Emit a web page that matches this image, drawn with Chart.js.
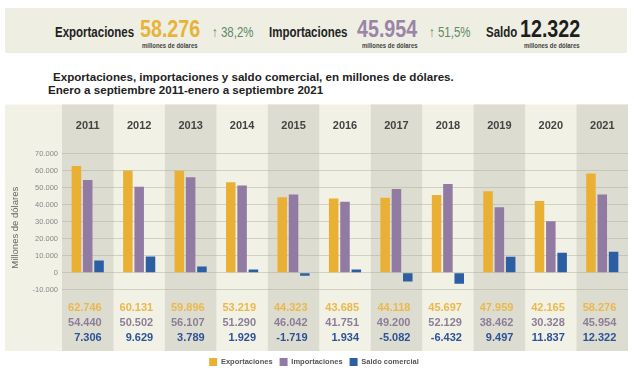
<!DOCTYPE html>
<html>
<head>
<meta charset="utf-8">
<script src="https://cdn.jsdelivr.net/npm/chart.js@4"></script>
<style>
  body { margin: 0; background: #fff; width: 634px; height: 380px; overflow: hidden; position: relative; font-family: "Liberation Sans", Arial, sans-serif; }
  .abs { position: absolute; line-height: 1; white-space: nowrap; }
  #banner { position: absolute; left: 5px; top: 8px; width: 622px; height: 45px; background: #eeefe2; }
  .narrow { transform: scaleX(0.82); transform-origin: left center; }
  .lbl { font-size: 14px; font-weight: bold; color: #222; }
  .big { font-size: 24px; font-weight: bold; }
  .pct { font-size: 14px; color: #5f8a67; }
  .mil { font-size: 7px; font-weight: bold; color: #444; transform: scaleX(0.85); transform-origin: left center; }
  .title { font-size: 11.6px; font-weight: bold; color: #222; }
  #wrap { position: absolute; left: 0; top: 96px; width: 634px; height: 280px; }
</style>
</head>
<body>
<div id="banner"></div>
<div class="abs narrow lbl" style="left:55px;top:25px">Exportaciones</div>
<div class="abs narrow big" style="left:140px;top:17px;color:#e9b33a">58.276</div>
<div class="abs narrow pct" style="left:212px;top:25px">&#8593; 38,2%</div>
<div class="abs mil" style="left:142px;top:42px">millones de dólares</div>
<div class="abs narrow lbl" style="left:269px;top:25px">Importaciones</div>
<div class="abs narrow big" style="left:357px;top:17px;color:#9a84a8">45.954</div>
<div class="abs narrow pct" style="left:429px;top:25px">&#8593; 51,5%</div>
<div class="abs mil" style="left:362px;top:42px">millones de dólares</div>
<div class="abs narrow lbl" style="left:486px;top:25px">Saldo</div>
<div class="abs narrow big" style="left:520px;top:17px;color:#1e1e1e">12.322</div>
<div class="abs mil" style="left:524px;top:42px">millones de dólares</div>

<div class="abs title" style="left:53px;top:71px">Exportaciones, importaciones y saldo comercial, en millones de dólares.</div>
<div class="abs title" style="left:48px;top:84px">Enero a septiembre 2011-enero a septiembre 2021</div>

<div id="wrap"><canvas id="grafico"></canvas></div>

<script>
// --- Datos ---
const years = ["2011", "2012", "2013", "2014", "2015", "2016", "2017", "2018", "2019", "2020", "2021"];
const exportaciones = [62746, 60131, 59896, 53219, 44323, 43685, 44118, 45697, 47959, 42165, 58276];
const importaciones = [54440, 50502, 56107, 51290, 46042, 41751, 49200, 52129, 38462, 30328, 45954];
const saldo = [7306, 9629, 3789, 1929, -1719, 1934, -5082, -6432, 9497, 11837, 12322];
const yTicks = [-10000, 0, 10000, 20000, 30000, 40000, 50000, 60000, 70000];

const colExp = "#e9b033";
const colImp = "#927ba2";
const colSal = "#2b5ea3";

// formato con punto de miles
function fmt(v) {
  const s = String(Math.abs(v)).replace(/\B(?=(\d{3})+(?!\d))/g, ".");
  return (v < 0 ? "-" : "") + s;
}

// --- Plugin: fondo de columnas, años y tabla ---
const fondoTabla = {
  id: "fondoTabla",
  beforeDraw(chart) {
    const { ctx, chartArea: a } = chart;
    const w = (a.right - a.left) / years.length;
    ctx.save();
    ctx.fillStyle = "#f1f1e5";
    ctx.fillRect(5, a.top, a.right - 5, a.bottom - a.top);
    ctx.fillStyle = "#dcdcd1";
    years.forEach((y, i) => {
      if (i % 2 === 0) ctx.fillRect(a.left + i * w, a.top, w, a.bottom - a.top);
    });
    ctx.restore();
  },
  afterDatasetsDraw(chart) {
    const { ctx, chartArea: a, scales: { x } } = chart;
    ctx.save();
    ctx.textBaseline = "middle";
    years.forEach((y, i) => {
      const cx = x.getPixelForValue(i);
      ctx.textAlign = "center";
      ctx.font = "bold 11px 'Liberation Sans', Arial";
      ctx.fillStyle = "#444";
      ctx.fillText(y, cx, a.top + 21);
      ctx.textAlign = "right";
      ctx.fillStyle = "#ebb84c";
      ctx.fillText(fmt(exportaciones[i]), cx + 14, a.bottom - 43);
      ctx.fillStyle = "#8c7e98";
      ctx.fillText(fmt(importaciones[i]), cx + 14, a.bottom - 28);
      ctx.fillStyle = "#2d5296";
      ctx.fillText(fmt(saldo[i]), cx + 14, a.bottom - 13);
    });
    ctx.restore();
  },
};

const ctx = document.getElementById("grafico").getContext("2d");

new Chart(ctx, {
  type: "bar",
  data: {
    labels: years,
    datasets: [
      { label: "Exportaciones", data: exportaciones, backgroundColor: colExp },
      { label: "Importaciones", data: importaciones, backgroundColor: colImp },
      { label: "Saldo comercial", data: saldo, backgroundColor: colSal },
    ],
  },
  options: {
    responsive: true,
    maintainAspectRatio: false,
    animation: false,
    categoryPercentage: 0.66,
    barPercentage: 0.84,
    layout: { padding: { top: 2, right: 6, left: 0, bottom: 0 } },
    plugins: {
      tooltip: { enabled: false },
      legend: {
        position: "bottom",
        labels: {
          boxWidth: 8,
          boxHeight: 8,
          padding: 7,
          color: "#555",
          font: { size: 7.5, weight: "bold", family: "'Liberation Sans', Arial" },
        },
      },
    },
    scales: {
      x: { display: false },
      y: {
        min: -45882,
        max: 98824,
        afterBuildTicks(scale) {
          scale.ticks = yTicks.map((v) => ({ value: v }));
        },
        afterFit(scale) {
          scale.width = 62;
        },
        border: { display: false },
        grid: { color: "rgba(170,170,150,0.45)", drawTicks: false },
        ticks: {
          padding: 4,
          color: "#888",
          font: { size: 7.5, family: "'Liberation Sans', Arial" },
          callback: (v) => fmt(v),
        },
        title: {
          display: true,
          text: "Millones de dólares",
          color: "#666",
          padding: { top: 10, bottom: 0 },
          font: { size: 9.5, family: "'Liberation Sans', Arial" },
        },
      },
    },
  },
  plugins: [fondoTabla],
});
</script>
</body>
</html>
